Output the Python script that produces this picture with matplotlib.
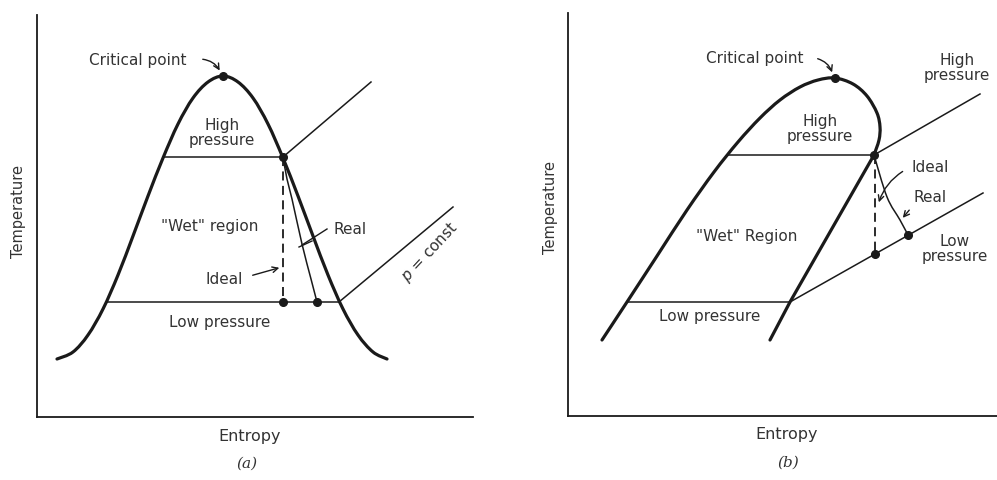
import matplotlib
matplotlib.use("Agg")
import matplotlib.pyplot as plt
import numpy as np
from matplotlib.path import Path
from matplotlib.patches import PathPatch

plt.rcParams['font.family'] = ['DejaVu Sans']

INK = '#1a1a1a'
TXT = '#333333'

# ---------------- (a) symmetric saturation dome ----------------
dome_a_s = [20, 36, 51, 66, 81, 96, 111, 126, 141, 156, 171, 186,
            201, 216, 231, 246, 261, 276, 291, 306, 321, 336, 350]
dome_a_T = [58, 65, 82, 108, 142, 181, 221, 259, 293, 319, 335, 341,
            335, 319, 293, 259, 221, 181, 142, 108, 82, 65, 58]
crit_a = (186, 341)

high_a_s = [126, 246]
high_a_T = [260, 260]
high_iso_a_s = [246, 334]
high_iso_a_T = [260, 335]

low_a_s = [70, 302]
low_a_T = [115, 115]
low_iso_a_s = [302, 416]
low_iso_a_T = [115, 210]

ideal_a_s = [246, 246]
ideal_a_T = [260, 115]
real_a_s = [246, 250, 255, 265, 274, 280]
real_a_T = [260, 238, 218, 173, 138, 115]

# ---------------- (b) skewed dome with dry-side overhang ----------------
liq_b_s = [34, 59, 89, 119, 146, 170, 192, 212, 232, 250, 267,
           285, 299, 309, 312, 311, 306]
liq_b_T = [76, 114, 160, 206, 244, 274, 298, 316, 329, 336, 338,
           332, 320, 303, 289, 276, 261]
vap_b_s = [306, 222, 202]
vap_b_T = [261, 114, 76]
crit_b = (267, 338)

high_b_s = [160, 306]
high_b_T = [261, 261]
high_iso_b_s = [306, 412]
high_iso_b_T = [261, 322]

low_b_s = [59, 222]
low_b_T = [114, 114]
low_iso_b_s = [222, 415]
low_iso_b_T = [114, 223]

ideal_b_s = [307, 307]
ideal_b_T = [261, 162]
real_b_s = [306, 319, 332, 340]
real_b_T = [261, 219, 196, 181]


fig = plt.figure(figsize=(9.97, 4.8), dpi=100)
W, H = 997, 480


def make_axes(left, right, top, bottom):
    ax = fig.add_axes([left / W, (H - bottom) / H, (right - left) / W, (bottom - top) / H])
    ax.set_xlim(0, right - left)
    ax.set_ylim(0, bottom - top)
    for side in ('top', 'right'):
        ax.spines[side].set_visible(False)
    for side in ('left', 'bottom'):
        ax.spines[side].set_linewidth(1.3)
        ax.spines[side].set_color(INK)
    ax.set_xticks([])
    ax.set_yticks([])
    return ax


def smooth_curve(ax, xs, ys, lw):
    # Catmull-Rom through the given points, drawn as cubic Bezier segments
    pts = np.column_stack([xs, ys]).astype(float)
    n = len(pts)
    verts = [pts[0]]
    codes = [Path.MOVETO]
    for i in range(n - 1):
        p0 = pts[max(i - 1, 0)]
        p1 = pts[i]
        p2 = pts[i + 1]
        p3 = pts[min(i + 2, n - 1)]
        verts += [p1 + (p2 - p0) / 6, p2 - (p3 - p1) / 6, p2]
        codes += [Path.CURVE4] * 3
    ax.add_patch(PathPatch(Path(verts, codes), fill=False, edgecolor=INK,
                           lw=lw, capstyle='round', joinstyle='round'))


def label(ax, s, T, text, **kw):
    kw.setdefault('fontsize', 11)
    ax.text(s, T, text, ha='center', va='center', color=TXT, **kw)


# ----- panel (a) -----
ax = make_axes(37, 473, 15, 417)
smooth_curve(ax, dome_a_s, dome_a_T, 2.3)
ax.plot(high_a_s, high_a_T, color=INK, lw=1.1)
ax.plot(high_iso_a_s, high_iso_a_T, color=INK, lw=1.1)
ax.plot(low_a_s, low_a_T, color=INK, lw=1.1)
ax.plot(low_iso_a_s, low_iso_a_T, color=INK, lw=1.1)
ax.plot(ideal_a_s, ideal_a_T, color=INK, lw=1.3, ls=(0, (5, 3)))
smooth_curve(ax, real_a_s, real_a_T, 1.1)
ax.plot([crit_a[0], high_a_s[1], ideal_a_s[1], real_a_s[-1]],
        [crit_a[1], high_a_T[1], ideal_a_T[1], real_a_T[-1]],
        'o', color=INK, ms=5.5)

label(ax, 101, 356, 'Critical point')
ax.annotate('', xy=(crit_a[0] - 2, crit_a[1] + 3), xytext=(163, 358),
            arrowprops=dict(arrowstyle='->', color=INK, lw=1.0,
                            connectionstyle='arc3,rad=-0.3'))
label(ax, 185, 284, 'High\npressure', linespacing=1.0)
label(ax, 173, 190, '"Wet" region')
label(ax, 187, 138, 'Ideal')
ax.annotate('', xy=(245, 150), xytext=(213, 141),
            arrowprops=dict(arrowstyle='->', color=INK, lw=1.0))
label(ax, 313, 188, 'Real')
ax.plot([265, 290], [172, 188], color=INK, lw=1.0)
ax.plot([262, 275], [170, 176], color=INK, lw=1.0)
label(ax, 183, 95, 'Low pressure')
label(ax, 393, 165, r'$p$ = const', rotation=47)

fig.text(250 / W, 1 - 436 / H, 'Entropy', ha='center', va='center',
         fontsize=11.5, color=TXT)
fig.text(247 / W, 1 - 464 / H, '(a)', ha='center', va='center',
         fontsize=11, color=TXT, style='italic', family='DejaVu Serif')
fig.text(19 / W, 1 - 212 / H, 'Temperature', ha='center', va='center',
         fontsize=10.5, color=TXT, rotation=90)

# ----- panel (b) -----
ax = make_axes(568, 997, 13, 416)
smooth_curve(ax, liq_b_s, liq_b_T, 2.3)
ax.plot(vap_b_s, vap_b_T, color=INK, lw=2.3, solid_capstyle='round')
ax.plot(high_b_s, high_b_T, color=INK, lw=1.1)
ax.plot(high_iso_b_s, high_iso_b_T, color=INK, lw=1.1)
ax.plot(low_b_s, low_b_T, color=INK, lw=1.1)
ax.plot(low_iso_b_s, low_iso_b_T, color=INK, lw=1.1)
ax.plot(ideal_b_s, ideal_b_T, color=INK, lw=1.3, ls=(0, (5, 3)))
smooth_curve(ax, real_b_s, real_b_T, 1.1)
ax.plot([crit_b[0], high_b_s[1], ideal_b_s[1], real_b_s[-1]],
        [crit_b[1], high_b_T[1], ideal_b_T[1], real_b_T[-1]],
        'o', color=INK, ms=5.5)

label(ax, 187, 358, 'Critical point')
ax.annotate('', xy=(crit_b[0] - 2, crit_b[1] + 3), xytext=(247, 358),
            arrowprops=dict(arrowstyle='->', color=INK, lw=1.0,
                            connectionstyle='arc3,rad=-0.3'))
label(ax, 389, 348, 'High\npressure', linespacing=1.0)
label(ax, 252, 287, 'High\npressure', linespacing=1.0)
label(ax, 179, 179, '"Wet" Region')
label(ax, 142, 99, 'Low pressure')
label(ax, 362, 248, 'Ideal')
ax.annotate('', xy=(310, 211), xytext=(337, 246),
            arrowprops=dict(arrowstyle='->', color=INK, lw=1.0,
                            connectionstyle='arc3,rad=0.2'))
label(ax, 362, 219, 'Real')
ax.annotate('', xy=(333, 196), xytext=(343, 208),
            arrowprops=dict(arrowstyle='->', color=INK, lw=1.0))
label(ax, 387, 167, 'Low\npressure', linespacing=1.0)

fig.text(787 / W, 1 - 434 / H, 'Entropy', ha='center', va='center',
         fontsize=11.5, color=TXT)
fig.text(788 / W, 1 - 463 / H, '(b)', ha='center', va='center',
         fontsize=11, color=TXT, style='italic', family='DejaVu Serif')
fig.text(550 / W, 1 - 207 / H, 'Temperature', ha='center', va='center',
         fontsize=10.5, color=TXT, rotation=90)

fig.savefig('out.png', dpi=100)
